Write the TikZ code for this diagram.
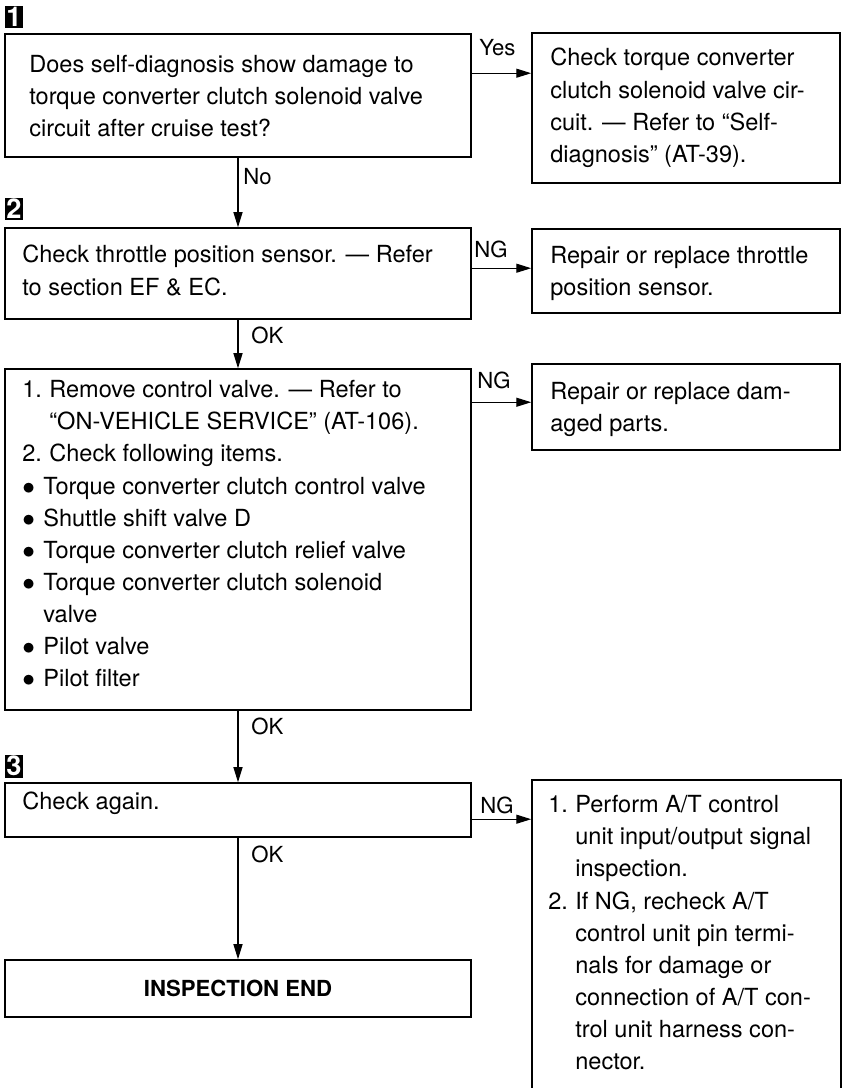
\documentclass[tikz,border=0pt]{standalone}
\usepackage{fontspec}
\setmainfont{TeX Gyre Heros}
\usetikzlibrary{arrows.meta,positioning,calc}
\newcommand{\numlab}[1]{\makebox[0.54cm][l]{#1}}
\newcommand{\bul}{\makebox[0.42cm][l]{$\bullet$}}

\begin{document}
\begin{tikzpicture}[x=0.02cm,y=-0.02cm,
  box/.style={draw,line width=0.9pt,inner sep=0pt},
  txt/.style={anchor=north west,align=left,inner sep=0pt,
    font=\fontsize{13.4}{18.3}\selectfont},
  lbl/.style={anchor=west,inner sep=0pt,font=\fontsize{12.6}{15}\selectfont},
  marker/.style={fill=black,text=white,font=\fontsize{15.5}{15.5}\selectfont\bfseries,
    minimum width=0.36cm,minimum height=0.46cm,inner sep=0pt},
  arrow/.style={-{Triangle[length=0.3cm,width=0.18cm]},line width=0.7pt}]
  \useasboundingbox[fill=white] (0,0) rectangle (854,1088);

  % step 1
  \node[marker] (m1) at (14,17) {1};
  \node[box,minimum width=9.32cm,minimum height=2.46cm] (q1) at (238,95.5) {};
  \node[txt] (q1t) at (29,55) {Does self-diagnosis show damage to\\
    torque converter clutch solenoid valve\\circuit after cruise test?};
  \node[box,minimum width=6.16cm,minimum height=3.0cm] (r1) at (686,108) {};
  \node[txt] (r1t) at (550,48) {Check torque converter\\
    clutch solenoid valve cir-\\cuit. --- Refer to ``Self-\\diagnosis'' (AT-39).};

  % step 2
  \node[marker] (m2) at (14,209) {2};
  \node[box,minimum width=9.32cm,minimum height=1.82cm] (q2) at (238,273.5) {};
  \node[txt] (q2t) at (22,245) {Check throttle position sensor. --- Refer\\
    to section EF \& EC.};
  \node[box,minimum width=6.16cm,minimum height=1.68cm] (r2) at (686,271) {};
  \node[txt] (r2t) at (550,246) {Repair or replace throttle\\position sensor.};

  \node[box,minimum width=9.32cm,minimum height=6.82cm] (q3) at (238,539.5) {};
  \node[txt] (q3t) at (22,380) {\numlab{1.}Remove control valve. --- Refer to\\
    \hspace*{0.54cm}``ON-VEHICLE SERVICE'' (AT-106).\\
    \numlab{2.}Check following items.\\
    \bul Torque converter clutch control valve\\
    \bul Shuttle shift valve D\\
    \bul Torque converter clutch relief valve\\
    \bul Torque converter clutch solenoid\\
    \hspace*{0.42cm}valve\\
    \bul Pilot valve\\
    \bul Pilot filter};
  \node[box,minimum width=6.16cm,minimum height=1.72cm] (r3) at (686,407) {};
  \node[txt] (r3t) at (550,382) {Repair or replace dam-\\aged parts.};

  % step 3
  \node[marker] (m3) at (14,766) {3};
  \node[box,minimum width=9.32cm,minimum height=1.08cm] (q4) at (238,810) {};
  \node[txt] (q4t) at (22,792) {Check again.};
  \node[box,minimum width=6.18cm,minimum height=6.8cm] (r4) at (686.5,950) {};
  \node[txt] (r4t) at (548,795) {\numlab{1.}Perform A/T control\\
    \hspace*{0.54cm}unit input/output signal\\
    \hspace*{0.54cm}inspection.\\
    \numlab{2.}If NG, recheck A/T\\
    \hspace*{0.54cm}control unit pin termi-\\
    \hspace*{0.54cm}nals for damage or\\
    \hspace*{0.54cm}connection of A/T con-\\
    \hspace*{0.54cm}trol unit harness con-\\
    \hspace*{0.54cm}nector.};

  \node[box,minimum width=9.32cm,minimum height=1.14cm,
    font=\fontsize{12.6}{15}\selectfont\bfseries] (q5) at (238,988.5) {INSPECTION END};

  % connectors
  \draw[arrow] (q1) -- (q2);
  \draw[arrow] (q2) -- (q3);
  \draw[arrow] (q3) -- (q4);
  \draw[arrow] (q4) -- (q5);
  \draw[arrow] ([yshift=-0.8cm]q1.north east) coordinate (a1) -- (a1 -| r1.west);
  \draw[arrow] ([yshift=-0.82cm]q2.north east) coordinate (a2) -- (a2 -| r2.west);
  \draw[arrow] ([yshift=-0.68cm]q3.north east) coordinate (a3) -- (a3 -| r3.west);
  \draw[arrow] ([yshift=-0.74cm]q4.north east) coordinate (a4) -- (a4 -| r4.west);

  \node[lbl] (yes) at (479,48) {Yes};
  \node[lbl] (no) at (243,177) {No};
  \node[lbl] (ng1) at (474,249) {NG};
  \node[lbl] (ok1) at (251,335) {OK};
  \node[lbl] (ng2) at (477,380) {NG};
  \node[lbl] (ok2) at (251,726) {OK};
  \node[lbl] (ng3) at (480,805) {NG};
  \node[lbl] (ok3) at (251,854) {OK};
\end{tikzpicture}
\end{document}
